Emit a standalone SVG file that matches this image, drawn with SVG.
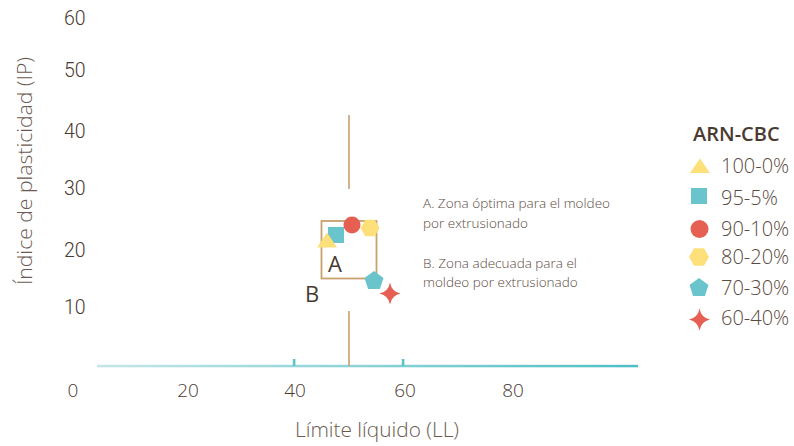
<svg xmlns="http://www.w3.org/2000/svg" width="794" height="446" viewBox="0 0 794 446">
<defs>
<style>
.num{font-family:Roboto,"Liberation Sans",Arial,sans-serif;font-weight:300;font-size:19.5px;fill:#4a3a30}
.xnum{font-family:"Open Sans","Liberation Sans",sans-serif;font-weight:300;font-size:19px;fill:#4a3a30}
.ttl{font-family:"Open Sans","Liberation Sans",sans-serif;font-weight:300;font-size:20px;fill:#6a5a50}
.note{font-family:"Open Sans","Liberation Sans",sans-serif;font-weight:300;font-size:13.5px;fill:#5a4a40}
.leg{font-family:"Open Sans","Liberation Sans",sans-serif;font-weight:300;font-size:20px;fill:#5a4a40}
.legh{font-family:"Open Sans","Liberation Sans",sans-serif;font-weight:600;font-size:20px;fill:#4a3a30}
.zone{font-family:"Open Sans","Liberation Sans",sans-serif;font-weight:400;font-size:22px;fill:#4a3a30}
.tan{stroke:#c9a06e;fill:none}
.yel{fill:#fde07a}
.teal{fill:#6ac4cc}
.red{fill:#e55f52}
</style>
<linearGradient id="axisg" x1="0" y1="0" x2="1" y2="0">
<stop offset="0" stop-color="#c4e6e7"/>
<stop offset="1" stop-color="#4ebfc5"/>
</linearGradient>
</defs>
<rect width="794" height="446" fill="#ffffff"/>

<g id="y-axis">
<text class="num" x="64" y="25">60</text>
<text class="num" x="64" y="77">50</text>
<text class="num" x="64" y="138">40</text>
<text class="num" x="64" y="195">30</text>
<text class="num" x="64" y="257">20</text>
<text class="num" x="64" y="314">10</text>
<text class="ttl" transform="translate(32,171) rotate(-90)" text-anchor="middle" textLength="228" lengthAdjust="spacingAndGlyphs">Índice de plasticidad (IP)</text>
</g>

<g id="x-axis">
<rect x="97" y="364.8" width="541" height="2.5" fill="url(#axisg)"/>
<rect x="292.8" y="359" width="2.6" height="7" fill="#5cc3c9"/>
<rect x="401.8" y="359" width="2.6" height="7" fill="#5cc3c9"/>
<text class="xnum" x="73" y="397" text-anchor="middle">0</text>
<text class="xnum" x="188" y="397" text-anchor="middle">20</text>
<text class="xnum" x="295" y="397" text-anchor="middle">40</text>
<text class="xnum" x="405" y="397" text-anchor="middle">60</text>
<text class="xnum" x="513" y="397" text-anchor="middle">80</text>
<text class="ttl" x="295" y="437" textLength="164" lengthAdjust="spacingAndGlyphs">Límite líquido (LL)</text>
</g>

<g id="connectors">
<line class="tan" x1="349" y1="115" x2="349" y2="189" stroke-width="1.6"/>
<line class="tan" x1="349" y1="311" x2="349" y2="366" stroke-width="1.6"/>
</g>

<g id="zone-A">
<rect class="tan" x="321.5" y="221" width="55" height="57.5" stroke-width="1.8"/>
<text class="zone" x="335" y="272" text-anchor="middle">A</text>
</g>
<g id="zone-B">
<text class="zone" x="312" y="302" text-anchor="middle">B</text>
</g>

<g id="points">
<rect class="teal" x="328" y="227" width="16" height="16"/>
<polygon class="yel" points="327,232.5 317,247.5 337,247.5"/>
<circle class="red" cx="352" cy="225" r="8.5"/>
<polygon class="yel" points="360.5,228 365.25,219.8 374.75,219.8 379.5,228 374.75,236.2 365.25,236.2"/>
<polygon class="teal" points="374,271 383.5,277.9 379.9,289.1 368.1,289.1 364.5,277.9"/>
<path class="red" d="M390,282.5 Q391.5,291.5 400.5,293.5 Q391.5,295.5 390,304.5 Q388.5,295.5 379.5,293.5 Q388.5,291.5 390,282.5Z"/>
</g>

<g id="notes">
<text class="note" x="423" y="208" textLength="187" lengthAdjust="spacingAndGlyphs">A. Zona óptima para el moldeo</text>
<text class="note" x="423" y="228">por extrusionado</text>
<text class="note" x="423" y="268">B. Zona adecuada para el</text>
<text class="note" x="423" y="287">moldeo por extrusionado</text>
</g>

<g id="legend">
<text class="legh" x="693" y="141">ARN-CBC</text>
<g id="leg-100-0">
<polygon class="yel" points="700,158.5 690,173 710,173"/>
<text class="leg" x="721" y="173">100-0%</text>
</g>
<g id="leg-95-5">
<rect class="teal" x="691" y="188" width="16" height="16"/>
<text class="leg" x="721" y="205">95-5%</text>
</g>
<g id="leg-90-10">
<circle class="red" cx="699.5" cy="229" r="9"/>
<text class="leg" x="721" y="236">90-10%</text>
</g>
<g id="leg-80-20">
<polygon class="yel" points="689,257 694,248.3 704,248.3 709,257 704,265.7 694,265.7"/>
<text class="leg" x="721" y="264">80-20%</text>
</g>
<g id="leg-70-30">
<polygon class="teal" points="699,278 708.5,284.9 704.9,296 693.1,296 689.5,284.9"/>
<text class="leg" x="721" y="295">70-30%</text>
</g>
<g id="leg-60-40">
<path class="red" d="M699.5,308.5 Q701,317.5 710,319.5 Q701,321.5 699.5,330.5 Q698,321.5 689,319.5 Q698,317.5 699.5,308.5Z"/>
<text class="leg" x="721" y="325">60-40%</text>
</g>
</g>
</svg>
